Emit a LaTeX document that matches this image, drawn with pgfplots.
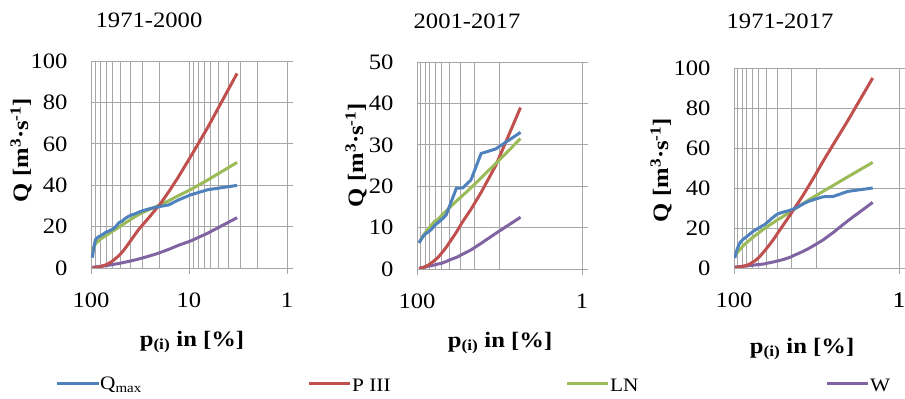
\documentclass[border=0pt]{standalone}
\usepackage{pgfplots}
\pgfplotsset{compat=1.18}
\usepackage{pgfplotstable}
\usepackage{fontspec}
\setmainfont{Liberation Serif}[FakeStretch=1.12]
\definecolor{cQ}{HTML}{4F81BD}
\definecolor{cP}{HTML}{C0504D}
\definecolor{cL}{HTML}{9BBB59}
\definecolor{cW}{HTML}{8064A2}
\definecolor{gridc}{HTML}{A6A6A6}

\pgfplotstableread{
p     Q     P3    LN    W
96.8  5.0   0.0   8.0   0.3
93.5  10.0  0.0   10.0  0.4
90.3  13.5  0.1   11.5  0.5
87.1  14.5  0.2   12.4  0.6
83.9  15.0  0.4   13.1  0.7
80.6  15.5  0.7   13.8  0.8
77.4  16.0  0.9   14.4  0.9
74.2  16.5  1.2   15.0  1.0
71.0  17.2  1.5   15.5  1.1
67.7  17.6  1.9   16.2  1.3
64.5  18.0  2.5   16.8  1.4
61.3  18.6  3.1   17.5  1.6
58.1  19.2  4.0   18.2  1.8
54.8  20.5  5.0   19.0  2.0
51.6  22.0  6.1   19.8  2.2
48.4  22.5  7.5   20.7  2.5
45.2  23.8  9.3   21.6  2.8
41.9  24.8  11.4  22.6  3.1
38.7  25.6  13.7  23.7  3.5
35.5  26.2  16.2  24.8  3.9
32.3  27.0  18.9  25.9  4.4
29.0  27.8  21.4  27.0  5.0
25.8  28.5  24.2  28.1  5.7
22.6  29.2  27.5  29.3  6.5
19.35 29.8  31.4  30.6  7.6
16.1  30.5  36.8  32.5  9.0
12.9  32.8  43.8  34.9  10.9
9.68  35.3  53.6  37.8  13.0
6.45  37.8  67.8  42.5  16.8
3.23  39.9  94.0  51.0  24.3
}\tabA

\pgfplotstableread{
p     Q     P3    LN    W
94.4  6.3   0.1   6.3   0.2
88.9  7.2   0.2   7.3   0.3
83.3  8.0   0.4   8.2   0.4
77.8  8.6   0.7   9.0   0.5
72.2  9.0   1.0   9.8   0.7
66.7  9.6   1.5   10.6  0.8
61.1  10.5  2.1   11.5  1.0
55.6  11.2  2.8   12.0  1.2
50.0  12.0  3.9   13.0  1.4
44.4  13.0  5.2   14.0  1.8
38.9  16.0  6.9   15.1  2.3
33.3  19.5  8.9   16.4  2.8
27.8  19.6  11.5  17.8  3.6
22.2  21.5  14.4  19.6  4.6
16.7  27.9  18.5  22.0  6.2
11.1  29.0  25.0  25.5  8.6
5.56  33.0  39.0  31.5  12.5
}\tabB

\pgfplotstableread{
p       Q     P3    LN    W
97.917  5.0   0.1   6.1   0.5
95.833  6.5   0.1   6.6   0.5
93.75   8.0   0.2   7.1   0.6
91.667  9.3   0.2   7.6   0.6
89.583  10.5  0.3   8.1   0.6
87.5    11.5  0.4   8.6   0.7
85.417  12.3  0.5   9.1   0.7
83.333  13.0  0.6   9.6   0.7
81.25   13.5  0.7   10.1  0.8
79.167  14.0  0.8   10.7  0.8
77.083  14.4  0.9   11.2  0.9
75.0    14.8  1.0   11.7  0.9
72.917  15.2  1.2   12.1  1.0
70.833  15.6  1.3   12.6  1.0
68.75   16.0  1.5   13.0  1.1
66.667  16.4  1.7   13.5  1.2
64.583  16.9  2.0   14.0  1.2
62.5    17.4  2.3   14.4  1.3
60.417  17.9  2.7   15.0  1.3
58.333  18.3  3.1   15.5  1.4
56.25   18.8  3.5   16.0  1.5
54.167  19.2  4.0   16.5  1.6
52.083  19.6  4.6   17.1  1.7
50.0    20.0  5.3   17.6  1.7
47.917  20.5  6.1   18.2  1.8
45.833  21.0  7.0   18.8  1.9
43.75   21.4  8.0   19.4  2.0
41.667  22.0  9.0   20.0  2.2
39.583  22.8  10.2  20.6  2.4
37.5    23.6  11.4  21.3  2.6
35.417  24.6  12.8  22.0  2.8
33.333  25.4  14.2  22.7  3.0
31.25   26.4  15.9  23.5  3.3
29.167  27.1  17.8  24.3  3.6
27.083  27.6  19.7  25.0  3.9
25.0    28.0  21.8  26.0  4.3
22.917  28.4  24.1  26.9  4.8
20.833  28.9  26.6  28.0  5.4
18.75   29.6  29.5  29.2  6.3
16.667  30.6  32.6  30.6  7.2
14.583  32.0  36.3  32.2  8.3
12.5    33.3  40.8  34.0  9.7
10.417  34.4  46.3  35.9  11.6
8.333   35.6  53.3  38.3  14.0
6.25    35.8  61.8  41.3  17.8
4.167   38.3  73.7  45.6  23.6
2.083   40.0  95.0  52.8  32.8
}\tabC

\pgfplotsset{
  panel/.style={
    scale only axis,
    xmin=0.999, xmax=100, ymin=0,
    axis line style={draw=gridc, line width=0.8bp},
    grid=both,
    major grid style={draw=gridc, line width=0.8bp},
    minor grid style={draw=gridc, line width=0.8bp},
    tick align=outside,
    xtick pos=bottom,
    ytick pos=right, yticklabel pos=left,
    major tick length=6bp, minor tick length=0bp,
    tick style={draw=gridc, line width=0.8bp},
    /pgf/number format/assume math mode=true,
    every tick label/.append style={font=\fontsize{22bp}{22bp}\selectfont},
    xticklabel style={yshift=-15bp},
    yticklabel style={xshift=-14bp},
  },
}

\begin{document}
\begin{tikzpicture}
\path[use as bounding box] (0,0) rectangle (905bp,399bp);

% Panel 1
\begin{axis}[xmode=log, x dir=reverse, panel, at={(91bp,131bp)}, anchor=south west, width=196bp, height=207bp,
  ymax=100, ytick={0,20,...,100},
  xtick={1,10,100}, xticklabels={1,10,100},
  minor xtick={2,3,...,9,20,30,...,90}]
\addplot[line width=3bp, cW, no marks] table[x=p,y=W]{\tabA};
\addplot[line width=3bp, cL, no marks] table[x=p,y=LN]{\tabA};
\addplot[line width=3bp, cP, no marks] table[x=p,y=P3]{\tabA};
\addplot[line width=3bp, cQ, no marks] table[x=p,y=Q]{\tabA};
\end{axis}

% Panel 2
\begin{axis}[xmode=log, x dir=reverse, panel, at={(417bp,130bp)}, anchor=south west, width=165bp, height=207bp,
  ymax=50, ytick={0,10,...,50},
  xtick={1,100}, xticklabels={1,100},
  minor xtick={10,20,...,90}]
\addplot[line width=3bp, cW, no marks] table[x=p,y=W]{\tabB};
\addplot[line width=3bp, cP, no marks] table[x=p,y=P3]{\tabB};
\addplot[line width=3bp, cL, no marks] table[x=p,y=LN]{\tabB};
\addplot[line width=3bp, cQ, no marks] table[x=p,y=Q]{\tabB};
\end{axis}

% Panel 3
\begin{axis}[xmode=log, x dir=reverse, panel, at={(734bp,131bp)}, anchor=south west, width=165bp, height=200bp,
  ymax=100, ytick={0,20,...,100},
  xtick={1,100}, xticklabels={1,100},
  minor xtick={10,20,...,90}]
\addplot[line width=3bp, cW, no marks] table[x=p,y=W]{\tabC};
\addplot[line width=3bp, cL, no marks] table[x=p,y=LN]{\tabC};
\addplot[line width=3bp, cP, no marks] table[x=p,y=P3]{\tabC};
\addplot[line width=3bp, cQ, no marks] table[x=p,y=Q]{\tabC};
\end{axis}
\node[font=\fontsize{22bp}{22bp}\selectfont, inner sep=0pt] at (899bp,99bp) {1};

% Titles
\begin{scope}[every node/.style={font=\fontsize{22bp}{22bp}\selectfont, inner sep=0pt}]
\node at (149bp,379bp) {1971-2000};
\node at (467bp,378bp) {2001-2017};
\node at (780bp,378bp) {1971-2017};
\end{scope}

% Axis labels
\begin{scope}[every node/.style={font=\fontsize{22bp}{22bp}\selectfont\bfseries, inner sep=0pt}]
\node[rotate=90] at (21bp,249bp) {Q [m\textsuperscript{3}·s\textsuperscript{-1}]};
\node[rotate=90] at (356bp,244bp) {Q [m\textsuperscript{3}·s\textsuperscript{-1}]};
\node[rotate=90] at (661bp,229bp) {Q [m\textsuperscript{3}·s\textsuperscript{-1}]};
\node at (192bp,57bp) {p\textsubscript{(i)} in [\%]};
\node at (500bp,56bp) {p\textsubscript{(i)} in [\%]};
\node at (802bp,50bp) {p\textsubscript{(i)} in [\%]};
\end{scope}

% Legend
\begin{scope}[every node/.style={font=\fontsize{19bp}{19bp}\selectfont, inner sep=0pt, anchor=west}]
\draw[cQ, line width=3bp] (57bp,15bp) -- (99bp,15bp);
\node at (100bp,14bp) {Q\textsubscript{max}};
\draw[cP, line width=3bp] (309bp,15bp) -- (350bp,15bp);
\node at (352bp,14bp) {P III};
\draw[cL, line width=3bp] (567bp,15bp) -- (608bp,15bp);
\node at (610bp,14bp) {LN};
\draw[cW, line width=3bp] (827bp,15bp) -- (868bp,15bp);
\node at (870bp,14bp) {W};
\end{scope}
\end{tikzpicture}
\end{document}
